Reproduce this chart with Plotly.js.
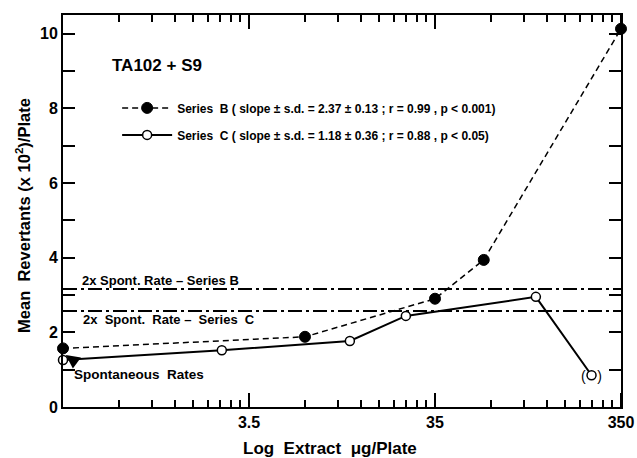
<!DOCTYPE html>
<html>
<head>
<meta charset="utf-8">
<script src="https://cdn.plot.ly/plotly-3.0.1.min.js"></script>
<style>html,body{margin:0;padding:0;background:#fff;}#chart{width:637px;height:458px;}</style>
</head>
<body>
<div id="chart"></div>
<script>
// Data
const seriesB_x = [0.35, 7, 35, 64, 350];
const seriesB_y = [1.57, 1.88, 2.90, 3.94, 10.13];
const seriesC_x = [0.35, 2.5, 12.2, 24.4, 122, 243];
const seriesC_y = [1.26, 1.52, 1.77, 2.44, 2.95, 0.85];
const refLineX = [0.35, 350];
const spontB2x = 3.16;
const spontC2x = 2.57;
const xMajorVals = [3.5, 35, 350];
const xMajorText = ['3.5', '35', '350'];
const xMinorBases = [0.35, 3.5, 35];
const yTickVals = [0, 1, 2, 3, 4, 5, 6, 7, 8, 9, 10];
const yTickText = ['0', '', '2', '', '4', '', '6', '', '8', '', '10'];

const nameB = 'Series  B ( slope ± s.d. = 2.37 ± 0.13 ; r = 0.99 , p < 0.001)';
const nameC = 'Series  C ( slope ± s.d. = 1.18 ± 0.36 ; r = 0.88 , p < 0.05)';

const xMinorVals = [];
xMinorBases.forEach(b => { for (let k = 2; k <= 9; k++) xMinorVals.push(b * k); });
const xAllVals = xMinorVals.concat(xMajorVals);
const xAllText = xMinorVals.map(() => '').concat(xMajorText);

const FONT = 'Liberation Sans, Arial, Helvetica, sans-serif';
const xRange = [Math.log10(0.35), Math.log10(350)];
const yRange = [0, 10.5];
const bold = (size) => ({family: FONT, size: size, color: '#000', weight: 'bold'});

// long major x ticks as pixel-length shapes at the axis positions
const xFrac = v => (Math.log10(v) - xRange[0]) / (xRange[1] - xRange[0]);
const tl = {color: '#000', width: 2};
const tickShapes = [];
xMajorVals.forEach(v => {
  const f = xFrac(v);
  tickShapes.push({type: 'line', xref: 'paper', yref: 'paper', ysizemode: 'pixel', yanchor: 0, x0: f, x1: f, y0: 0, y1: 14, line: tl});
  tickShapes.push({type: 'line', xref: 'paper', yref: 'paper', ysizemode: 'pixel', yanchor: 1, x0: f, x1: f, y0: 0, y1: -14, line: tl});
});

const traces = [
  {x: refLineX, y: [spontB2x, spontB2x], mode: 'lines', showlegend: false, hoverinfo: 'skip',
   line: {color: '#000', width: 2, dash: '14px,4px,3px,4px'}},
  {x: refLineX, y: [spontC2x, spontC2x], mode: 'lines', showlegend: false, hoverinfo: 'skip',
   line: {color: '#000', width: 2, dash: '14px,4px,3px,4px'}},
  {x: seriesB_x, y: seriesB_y, name: nameB, mode: 'lines+markers', cliponaxis: false, legendgroup: 'b',
   line: {color: '#000', width: 1.5, dash: '6px,4px'},
   marker: {symbol: 'circle', size: 11, color: '#000', line: {color: '#000', width: 1}}},
  {x: seriesC_x, y: seriesC_y, name: nameC, mode: 'lines+markers', cliponaxis: false, legendgroup: 'c',
   line: {color: '#000', width: 2},
   marker: {symbol: 'circle', size: 9, color: '#fff', line: {color: '#000', width: 1.5}}}
];

const layout = {
  width: 637, height: 458,
  margin: {l: 63, r: 16, t: 15, b: 51},
  showlegend: true,
  xaxis: {
    type: 'log', range: xRange,
    showline: true, linecolor: '#000', linewidth: 2, mirror: 'ticks',
    ticks: 'inside', tickcolor: '#000', tickwidth: 2, ticklen: 7,
    tickmode: 'array', tickvals: xAllVals, ticktext: xAllText,
    tickfont: bold(16), showgrid: false, zeroline: false
  },
  yaxis: {
    range: yRange,
    showline: true, linecolor: '#000', linewidth: 2, mirror: 'ticks',
    ticks: 'inside', tickcolor: '#000', tickwidth: 2, ticklen: 12,
    tickmode: 'array', tickvals: yTickVals, ticktext: yTickText,
    tickfont: bold(16), showgrid: false, zeroline: false
  },
  shapes: tickShapes,
  legend: {x: 0.097, y: 0.80, xanchor: 'left', yanchor: 'top', bgcolor: 'rgba(0,0,0,0)', itemwidth: 50,
           tracegroupgap: 8, traceorder: 'grouped', font: bold(12)},
  annotations: [
    {xref: 'paper', yref: 'paper', x: 0.479, y: -0.105, xanchor: 'center', yanchor: 'middle', showarrow: false,
     text: 'Log  Extract  μg/Plate', font: bold(17)},
    {xref: 'paper', yref: 'paper', x: -0.0717, y: 0.49, xanchor: 'center', yanchor: 'middle', showarrow: false,
     textangle: -90, text: 'Mean  Revertants (x 10<sup>2</sup>)/Plate', font: bold(16.5)},
    {xref: 'paper', yref: 'paper', x: 0.084, y: 0.872, xanchor: 'left', yanchor: 'middle', showarrow: false,
     text: 'TA102 + S9', font: bold(17)},
    {xref: 'paper', yref: 'y', x: 0.031, y: spontB2x, xanchor: 'left', yanchor: 'bottom', yshift: -1, showarrow: false,
     text: '2x Spont. Rate – Series B', font: bold(13)},
    {xref: 'paper', yref: 'y', x: 0.032, y: spontC2x, xanchor: 'left', yanchor: 'top', yshift: 1, showarrow: false,
     text: '2x  Spont.  Rate –  Series  C', font: bold(13)},
    {xref: 'paper', yref: 'y', x: 0.017, y: 0.86, xanchor: 'left', yanchor: 'middle', showarrow: false,
     text: 'Spontaneous  Rates', font: bold(13.5)},
    {xref: 'x', yref: 'y', x: Math.log10(seriesC_x[0]) + 0.015, y: (seriesB_y[0] + seriesC_y[0]) / 2 - 0.02,
     ax: 11, ay: 8, showarrow: true, arrowhead: 2, arrowsize: 1.1, arrowwidth: 2.5, arrowcolor: '#000', text: ' '},
    {xref: 'x', yref: 'y', x: Math.log10(seriesC_x[5]), y: seriesC_y[5], yshift: -1, showarrow: false,
     text: '(&nbsp;&nbsp;&nbsp;)', font: {family: FONT, size: 14, color: '#000'}}
  ]
};

Plotly.newPlot('chart', traces, layout, {staticPlot: true});
</script>
</body>
</html>
